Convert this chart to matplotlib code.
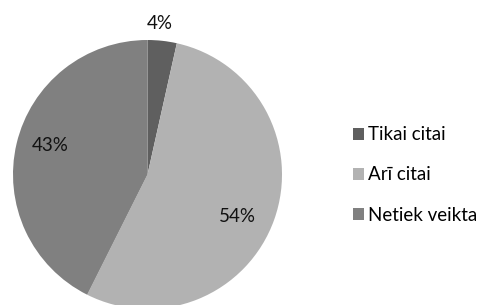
import matplotlib.pyplot as plt
import numpy as np

plt.rcParams['font.family'] = ['Lato', 'DejaVu Sans']

categories = ["Tikai citai", "Arī citai", "Netiek veikta"]
shares = [3.5, 53.9, 42.6]
pct_labels = ["4%", "54%", "43%"]
colors = ["#5f5f5f", "#b2b2b2", "#808080"]

W, H = 488, 305
fig = plt.figure(figsize=(W / 100, H / 100), dpi=100)

# pie centre / radius in pixels
cx, cy, r = 147.5, 174.5, 134.5
ax = fig.add_axes([(cx - r) / W, (H - cy - r) / H, 2 * r / W, 2 * r / H])

wedges, _ = ax.pie(shares, colors=colors, startangle=90, counterclock=False,
                   radius=1, wedgeprops=dict(linewidth=0))
ax.set_xlim(-1, 1)
ax.set_ylim(-1, 1)
ax.set_aspect('equal')
ax.axis('off')

# percentage labels (distance from centre, small angle nudge in degrees)
dists = [1.13, 0.74, 0.756]
nudges = [1.5, -5.6, -3.0]
for w, lab, d, n in zip(wedges, pct_labels, dists, nudges):
    ang = np.deg2rad((w.theta1 + w.theta2) / 2 + n)
    ax.text(d * np.cos(ang), d * np.sin(ang), lab, ha='center', va='center',
            fontsize=13.5, color='#111111', clip_on=False)

fig.legend(wedges, categories, loc='center left',
           bbox_to_anchor=(345 / W, (H - 175) / H), frameon=False,
           fontsize=13.5, handlelength=0.62, handleheight=0.62,
           handletextpad=0.2, labelspacing=1.23, borderaxespad=0)

fig.savefig('out.png', dpi=100, facecolor='white')
